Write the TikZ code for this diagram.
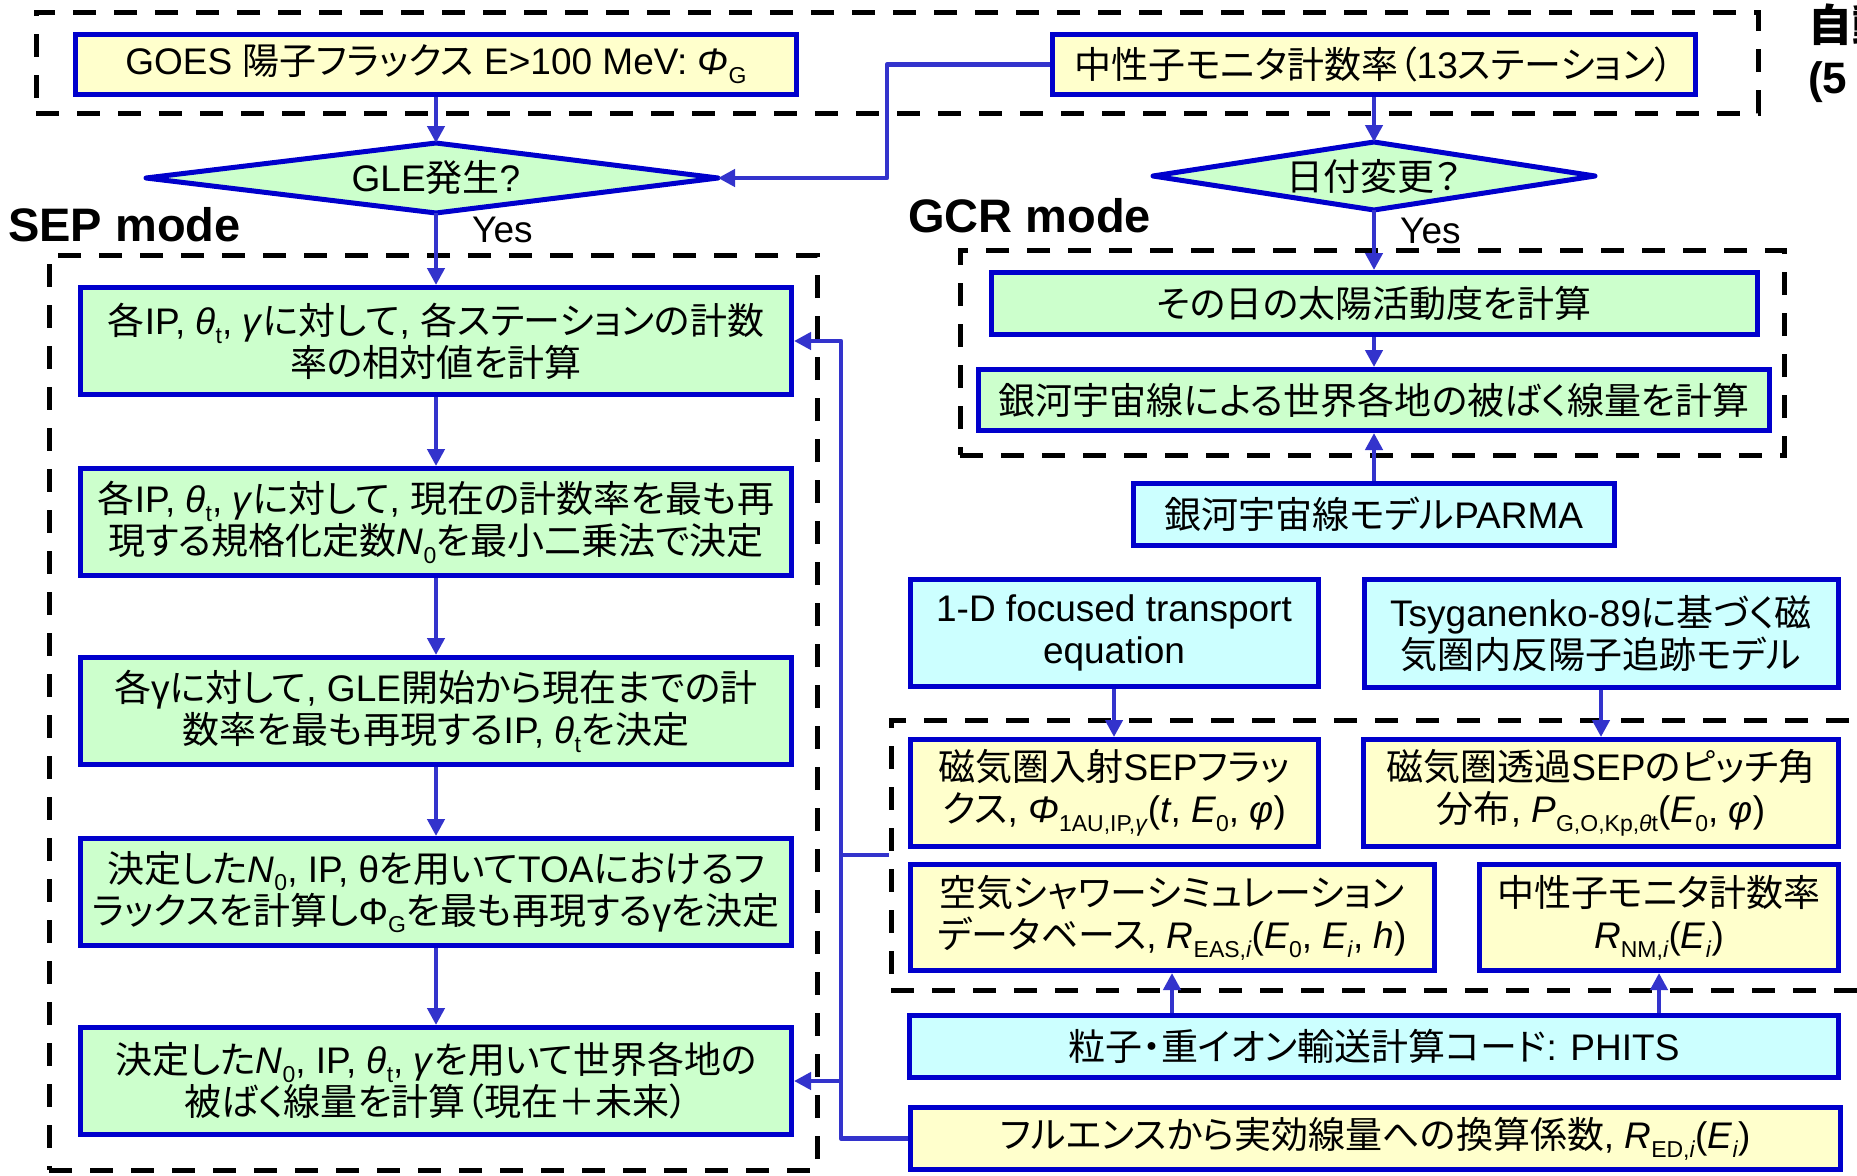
\documentclass[tikz,border=0pt]{standalone}
\usepackage{fontspec}
\setmainfont{Liberation Sans}
\newfontfamily\jpfont{Noto Sans CJK JP}[RawFeature=+palt]
\usetikzlibrary{arrows.meta}
\XeTeXinterchartokenstate=1
\newXeTeXintercharclass\JPclass
\makeatletter
\def\jp@setrange#1#2#3{\count@=#1\relax\loop\XeTeXcharclass\count@=#3\relax\ifnum\count@<#2\advance\count@ by 1\repeat}
\jp@setrange{"0000}{"2FFF}{0}
\jp@setrange{"3000}{"30FF}{\JPclass}
\jp@setrange{"4E00}{"9FFF}{\JPclass}
\jp@setrange{"FF00}{"FFEF}{\JPclass}
\makeatother
\XeTeXinterchartoks 0 \JPclass = {\jpfont}
\XeTeXinterchartoks 4095 \JPclass = {\jpfont}
\XeTeXinterchartoks \JPclass 0 = {\rmfamily}
\XeTeXinterchartoks \JPclass 4095 = {\rmfamily}
\definecolor{bordc}{HTML}{0000CC}
\definecolor{linec}{HTML}{3333CC}
\definecolor{yel}{HTML}{FFFFCC}
\definecolor{grn}{HTML}{CCFFCC}
\definecolor{cyn}{HTML}{CCFFFF}
\newcommand\mfont{\fontsize{37}{42}\selectfont}
\newcommand\sub[1]{\raisebox{-0.24em}{\fontsize{23}{23}\selectfont #1}}
\tikzset{
  box/.style={draw=bordc, line width=5pt, inner sep=0pt, align=center, font=\mfont},
  ybox/.style={box, fill=yel},
  gbox/.style={box, fill=grn},
  cbox/.style={box, fill=cyn},
  conn/.style={draw=linec, line width=4.5pt, line join=round},
  arr/.style={conn, -{Triangle[length=17pt,width=17pt]}},
  dashbox/.style={draw=black, line width=5pt, dash pattern=on 23pt off 18pt, inner sep=0pt},
  diastyle/.style={draw=bordc, line width=5pt, fill=grn, line join=round},
  modelabel/.style={font=\fontsize{47}{52}\selectfont\bfseries, inner sep=0pt, anchor=west},
  yeslabel/.style={font=\mfont, inner sep=0pt, anchor=west}
}
\begin{document}
\begin{tikzpicture}[x=1pt,y=-1pt]
\useasboundingbox (0,0) rectangle (1857,1175);
\clip (0,0) rectangle (1857,1175);
\fill[white] (0,0) rectangle (1857,1175);
% dashed groups
\node[dashbox, minimum width=1722pt, minimum height=101pt] (topbox) at (897,62.5) {};
\node[dashbox, minimum width=768pt, minimum height=915pt] (sepbox) at (433,712.5) {};
\node[dashbox, minimum width=824pt, minimum height=205pt] (gcrbox) at (1372,352.5) {};
\node[dashbox, minimum width=1000pt, minimum height=270pt] (magbox) at (1391,855) {};
% top inputs
\node[ybox, minimum width=721pt, minimum height=60pt] (goes) at (436,64.5) {GOES 陽子フラックス E>100 MeV: \textit{Φ}\sub{G}};
\node[ybox, minimum width=643pt, minimum height=60pt] (nm) at (1374,64.5) {中性子モニタ計数率（13ステーション）};
% diamonds
\coordinate (gleN) at (436,143);
\coordinate (gleS) at (436,213);
\coordinate (gleW) at (146,178);
\coordinate (gleE) at (718,178);
\draw[diastyle] (gleW) -- (gleN) -- (gleE) -- (gleS) -- cycle;
\node[font=\mfont, inner sep=0pt] (gle) at (436,178) {GLE発生?};
\coordinate (dateN) at (1374,142);
\coordinate (dateS) at (1374,210);
\coordinate (dateW) at (1153,176);
\coordinate (dateE) at (1595,176);
\draw[diastyle] (dateW) -- (dateN) -- (dateE) -- (dateS) -- cycle;
\node[font=\mfont, inner sep=0pt] (date) at (1374,176) {日付変更？};
% labels
\node[modelabel] (sepmode) at (8,225) {SEP mode};
\node[modelabel] (gcrmode) at (908,216) {GCR mode};
\node[yeslabel] (yes1) at (472,230) {Yes};
\node[yeslabel] (yes2) at (1400,231) {Yes};
\node[anchor=north west, align=left, inner sep=0pt, font=\fontsize{44}{52}\selectfont\bfseries] (auto) at (1808,4) {自動\\(5};
% SEP boxes
\node[gbox, minimum width=711pt, minimum height=107pt] (b1) at (436,341) {各IP, \textit{θ}\sub{t}, \textit{γ}に対して, 各ステーションの計数\\率の相対値を計算};
\node[gbox, minimum width=711pt, minimum height=107pt] (b2) at (436,522) {各IP, \textit{θ}\sub{t}, \textit{γ}に対して, 現在の計数率を最も再\\現する規格化定数\textit{N}\sub{0}を最小二乗法で決定};
\node[gbox, minimum width=711pt, minimum height=107pt] (b3) at (436,711) {各γに対して, GLE開始から現在までの計\\数率を最も再現するIP, \textit{θ}\sub{t}を決定};
\node[gbox, minimum width=711pt, minimum height=107pt] (b4) at (436,892) {決定した\textit{N}\sub{0}, IP, θを用いてTOAにおけるフ\\ラックスを計算しΦ\sub{G}を最も再現するγを決定};
\node[gbox, minimum width=711pt, minimum height=107pt] (b5) at (436,1081) {決定した\textit{N}\sub{0}, IP, \textit{θ}\sub{t}, \textit{γ}を用いて世界各地の\\被ばく線量を計算（現在＋未来）};
% GCR boxes
\node[gbox, minimum width=766pt, minimum height=62pt] (g1) at (1374,303.5) {その日の太陽活動度を計算};
\node[gbox, minimum width=791pt, minimum height=61pt] (g2) at (1374,400) {銀河宇宙線による世界各地の被ばく線量を計算};
\node[cbox, minimum width=481pt, minimum height=62pt] (parma) at (1374,514.5) {銀河宇宙線モデルPARMA};
\node[cbox, minimum width=408pt, minimum height=107pt] (focus) at (1114,633) {1-D focused transport\\equation};
\node[cbox, minimum width=474pt, minimum height=108pt] (tsyg) at (1601,633.5) {Tsyganenko-89に基づく磁\\気圏内反陽子追跡モデル};
\node[ybox, minimum width=408pt, minimum height=107pt] (m1) at (1114,793) {磁気圏入射SEPフラッ\\クス, \textit{Φ}\sub{1AU,IP,\textit{γ}}(\textit{t}, \textit{E}\sub{0}, \textit{φ})};
\node[ybox, minimum width=475pt, minimum height=107pt] (m2) at (1601,793) {磁気圏透過SEPのピッチ角\\分布, \textit{P}\sub{G,O,Kp,\textit{θ}t}(\textit{E}\sub{0}, \textit{φ})};
\node[ybox, minimum width=524pt, minimum height=106pt] (m3) at (1172,917.5) {空気シャワーシミュレーション\\データベース, \textit{R}\sub{EAS,\textit{i}}(\textit{E}\sub{0}, \textit{E}\sub{\textit{i}}, \textit{h})};
\node[ybox, minimum width=359pt, minimum height=106pt] (m4) at (1659,917.5) {中性子モニタ計数率\\\textit{R}\sub{NM,\textit{i}}(\textit{E}\sub{\textit{i}})};
\node[cbox, minimum width=929pt, minimum height=62pt] (phits) at (1374,1046.5) {粒子・重イオン輸送計算コード: PHITS};
\node[ybox, minimum width=930pt, minimum height=62pt] (red) at (1375.5,1138.5) {フルエンスから実効線量への換算係数, \textit{R}\sub{ED,\textit{i}}(\textit{E}\sub{\textit{i}})};
% connectors
\coordinate (nmBend) at (887,120);
\coordinate (fb1) at (841,341);
\coordinate (fb5) at (841,1081);
\coordinate (fbm) at (841,855);
\draw[arr] (goes.south) -- (gleN);
\draw[arr] (nm.south) -- (dateN);
\draw[arr] (nm.west) -| (nmBend) |- (gleE);
\draw[arr] (gleS) -- (b1.north);
\draw[arr] (b1) -- (b2);
\draw[arr] (b2) -- (b3);
\draw[arr] (b3) -- (b4);
\draw[arr] (b4) -- (b5);
\draw[arr] (dateS) -- (g1.north);
\draw[arr] (g1) -- (g2);
\draw[arr] (parma) -- (g2);
\draw[arr] (focus) -- (m1);
\draw[arr] (tsyg) -- (m2);
\draw[arr] (phits.north -| m3.south) -- (m3.south);
\draw[arr] (phits.north -| m4.south) -- (m4.south);
\draw[arr] (red.west) -| (fb1) -- (b1.east);
\draw[arr] (fb5) -- (b5.east);
\draw[conn] (magbox.west) -- (fbm);
\end{tikzpicture}
\end{document}
